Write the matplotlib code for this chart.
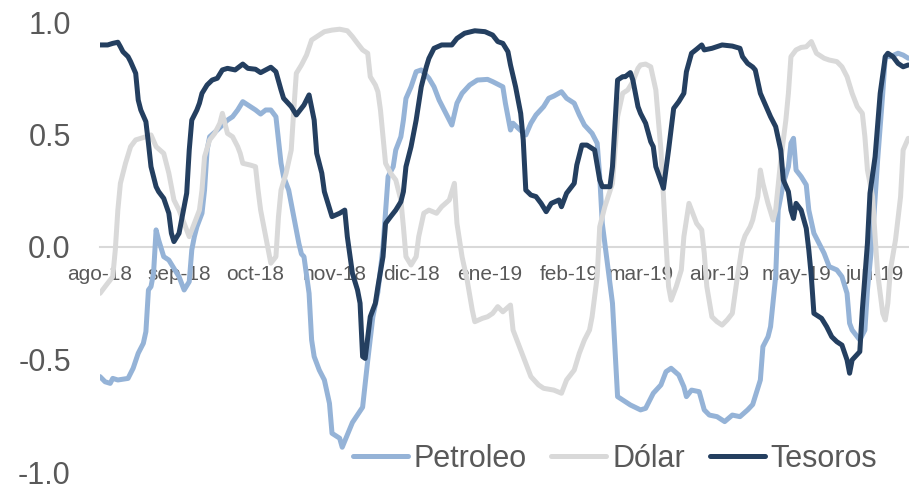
import matplotlib
matplotlib.use("Agg")
import matplotlib.pyplot as plt
import matplotlib.dates as mdates
import pandas as pd

plt.rcParams['font.family'] = ['Liberation Sans', 'DejaVu Sans']

# ---- data -------------------------------------------------------------
petroleo_dates = [
    "2018-08-01", "2018-08-03", "2018-08-05", "2018-08-06", "2018-08-08", "2018-08-12",
    "2018-08-14", "2018-08-16", "2018-08-18", "2018-08-19", "2018-08-20", "2018-08-21",
    "2018-08-22", "2018-08-23", "2018-08-24", "2018-08-26", "2018-08-28", "2018-08-30",
    "2018-09-01", "2018-09-03", "2018-09-05", "2018-09-06", "2018-09-07", "2018-09-08",
    "2018-09-10", "2018-09-11", "2018-09-12", "2018-09-13", "2018-09-16", "2018-09-18",
    "2018-09-20", "2018-09-22", "2018-09-24", "2018-09-26", "2018-09-29", "2018-10-01",
    "2018-10-03", "2018-10-05", "2018-10-07", "2018-10-09", "2018-10-11", "2018-10-12",
    "2018-10-14", "2018-10-16", "2018-10-18", "2018-10-19", "2018-10-20", "2018-10-22",
    "2018-10-23", "2018-10-24", "2018-10-26", "2018-10-28", "2018-10-30", "2018-10-31",
    "2018-11-03", "2018-11-04", "2018-11-08", "2018-11-12", "2018-11-14", "2018-11-16",
    "2018-11-18", "2018-11-20", "2018-11-22", "2018-11-24", "2018-11-25", "2018-11-27",
    "2018-11-28", "2018-11-29", "2018-12-01", "2018-12-03", "2018-12-05", "2018-12-08",
    "2018-12-10", "2018-12-12", "2018-12-14", "2018-12-17", "2018-12-19", "2018-12-21",
    "2018-12-24", "2018-12-27", "2018-12-31", "2019-01-02", "2019-01-06", "2019-01-07",
    "2019-01-09", "2019-01-10", "2019-01-12", "2019-01-15", "2019-01-17", "2019-01-19",
    "2019-01-22", "2019-01-24", "2019-01-26", "2019-01-29", "2019-01-31", "2019-02-03",
    "2019-02-05", "2019-02-07", "2019-02-10", "2019-02-12", "2019-02-13", "2019-02-14",
    "2019-02-16", "2019-02-18", "2019-02-20", "2019-02-23", "2019-02-25", "2019-03-01",
    "2019-03-03", "2019-03-06", "2019-03-09", "2019-03-11", "2019-03-13", "2019-03-16",
    "2019-03-18", "2019-03-19", "2019-03-21", "2019-03-24", "2019-03-26", "2019-03-28",
    "2019-03-31", "2019-04-03", "2019-04-06", "2019-04-09", "2019-04-12", "2019-04-14",
    "2019-04-17", "2019-04-18", "2019-04-20", "2019-04-21", "2019-04-23", "2019-04-24",
    "2019-04-26", "2019-04-28", "2019-04-29", "2019-04-30", "2019-05-01", "2019-05-03",
    "2019-05-05", "2019-05-06", "2019-05-08", "2019-05-10", "2019-05-12", "2019-05-14",
    "2019-05-17", "2019-05-19", "2019-05-21", "2019-05-22", "2019-05-23", "2019-05-26",
    "2019-05-28", "2019-05-29", "2019-05-31", "2019-06-02", "2019-06-04", "2019-06-05",
    "2019-06-07", "2019-06-10", "2019-06-12", "2019-06-14",
]
petroleo = [
    -0.576, -0.599, -0.606, -0.584, -0.591, -0.584,
    -0.539, -0.472, -0.428, -0.376, -0.191, -0.176,
    -0.117, 0.076, 0.031, -0.043, -0.058, -0.095,
    -0.132, -0.191, -0.154, -0.013, 0.046, 0.090,
    0.150, 0.253, 0.431, 0.490, 0.520, 0.542,
    0.564, 0.579, 0.609, 0.646, 0.624, 0.609,
    0.591, 0.609, 0.609, 0.579, 0.372, 0.313,
    0.253, 0.135, 0.016, -0.031, -0.043, -0.206,
    -0.413, -0.487, -0.547, -0.591, -0.695, -0.828,
    -0.850, -0.890, -0.780, -0.712, -0.505, -0.312,
    -0.200, 0.000, 0.313, 0.357, 0.431, 0.490,
    0.564, 0.660, 0.712, 0.779, 0.787, 0.750,
    0.712, 0.653, 0.609, 0.542, 0.639, 0.683,
    0.720, 0.742, 0.745, 0.735, 0.712, 0.639,
    0.520, 0.550, 0.528, 0.498, 0.550, 0.587,
    0.624, 0.661, 0.671, 0.690, 0.661, 0.639,
    0.587, 0.542, 0.505, 0.461, 0.313, 0.105,
    -0.072, -0.250, -0.665, -0.687, -0.702, -0.724,
    -0.717, -0.650, -0.613, -0.554, -0.539, -0.569,
    -0.621, -0.665, -0.636, -0.643, -0.724, -0.747,
    -0.754, -0.776, -0.747, -0.754, -0.724, -0.700,
    -0.591, -0.443, -0.399, -0.354, -0.132, 0.164,
    0.283, 0.357, 0.461, 0.483, 0.342, 0.313,
    0.276, 0.164, 0.061, 0.016, -0.028, -0.087,
    -0.102, -0.132, -0.206, -0.339, -0.369, -0.413,
    -0.369, -0.191, 0.046, 0.387, 0.683, 0.846,
    0.846, 0.861, 0.853, 0.839,
]

dolar_dates = [
    "2018-08-01", "2018-08-03", "2018-08-06", "2018-08-07", "2018-08-08", "2018-08-09",
    "2018-08-11", "2018-08-13", "2018-08-15", "2018-08-19", "2018-08-21", "2018-08-23",
    "2018-08-26", "2018-08-28", "2018-08-30", "2018-09-01", "2018-09-03", "2018-09-05",
    "2018-09-07", "2018-09-09", "2018-09-10", "2018-09-11", "2018-09-13", "2018-09-15",
    "2018-09-17", "2018-09-18", "2018-09-19", "2018-09-20", "2018-09-22", "2018-09-24",
    "2018-09-25", "2018-09-26", "2018-09-29", "2018-10-01", "2018-10-02", "2018-10-03",
    "2018-10-05", "2018-10-07", "2018-10-09", "2018-10-10", "2018-10-11", "2018-10-13",
    "2018-10-15", "2018-10-16", "2018-10-17", "2018-10-19", "2018-10-21", "2018-10-23",
    "2018-10-26", "2018-10-28", "2018-10-31", "2018-11-03", "2018-11-06", "2018-11-08",
    "2018-11-10", "2018-11-12", "2018-11-14", "2018-11-15", "2018-11-17", "2018-11-18",
    "2018-11-19", "2018-11-20", "2018-11-21", "2018-11-23", "2018-11-25", "2018-11-27",
    "2018-11-28", "2018-11-29", "2018-12-01", "2018-12-03", "2018-12-04", "2018-12-06",
    "2018-12-08", "2018-12-11", "2018-12-13", "2018-12-16", "2018-12-18", "2018-12-19",
    "2018-12-21", "2018-12-23", "2018-12-25", "2018-12-26", "2018-12-29", "2018-12-31",
    "2019-01-02", "2019-01-04", "2019-01-06", "2019-01-09", "2019-01-10", "2019-01-12",
    "2019-01-15", "2019-01-17", "2019-01-20", "2019-01-22", "2019-01-26", "2019-01-29",
    "2019-01-31", "2019-02-03", "2019-02-05", "2019-02-07", "2019-02-09", "2019-02-10",
    "2019-02-12", "2019-02-13", "2019-02-15", "2019-02-18", "2019-02-20", "2019-02-22",
    "2019-02-24", "2019-02-26", "2019-02-28", "2019-03-01", "2019-03-03", "2019-03-05",
    "2019-03-07", "2019-03-08", "2019-03-09", "2019-03-10", "2019-03-11", "2019-03-12",
    "2019-03-13", "2019-03-15", "2019-03-17", "2019-03-18", "2019-03-20", "2019-03-21",
    "2019-03-23", "2019-03-25", "2019-03-26", "2019-03-27", "2019-03-29", "2019-03-31",
    "2019-04-02", "2019-04-04", "2019-04-06", "2019-04-08", "2019-04-10", "2019-04-11",
    "2019-04-13", "2019-04-14", "2019-04-16", "2019-04-17", "2019-04-18", "2019-04-20",
    "2019-04-22", "2019-04-23", "2019-04-25", "2019-04-27", "2019-04-28", "2019-04-29",
    "2019-05-01", "2019-05-03", "2019-05-05", "2019-05-07", "2019-05-09", "2019-05-12",
    "2019-05-14", "2019-05-17", "2019-05-19", "2019-05-21", "2019-05-23", "2019-05-25",
    "2019-05-27", "2019-05-28", "2019-05-29", "2019-05-31", "2019-06-01", "2019-06-02",
    "2019-06-04", "2019-06-05", "2019-06-06", "2019-06-07", "2019-06-09", "2019-06-11",
    "2019-06-12", "2019-06-14",
]
dolar = [
    -0.206, -0.176, -0.132, -0.013, 0.164, 0.283,
    0.372, 0.446, 0.476, 0.490, 0.498, 0.446,
    0.416, 0.328, 0.209, 0.164, 0.105, 0.046,
    0.105, 0.164, 0.253, 0.401, 0.476, 0.505,
    0.550, 0.594, 0.550, 0.505, 0.490, 0.446,
    0.416, 0.372, 0.364, 0.357, 0.253, 0.164,
    0.046, -0.072, -0.043, 0.135, 0.253, 0.328,
    0.431, 0.609, 0.772, 0.809, 0.853, 0.920,
    0.942, 0.957, 0.964, 0.968, 0.961, 0.935,
    0.905, 0.876, 0.861, 0.757, 0.720, 0.690,
    0.609, 0.490, 0.372, 0.328, 0.298, 0.209,
    0.090, -0.043, -0.080, -0.043, 0.046, 0.150,
    0.164, 0.150, 0.179, 0.209, 0.283, 0.105,
    -0.043, -0.147, -0.280, -0.332, -0.317, -0.310,
    -0.295, -0.265, -0.288, -0.258, -0.369, -0.428,
    -0.517, -0.576, -0.613, -0.628, -0.636, -0.650,
    -0.591, -0.547, -0.472, -0.413, -0.369, -0.310,
    -0.132, 0.090, 0.179, 0.283, 0.579, 0.683,
    0.698, 0.735, 0.794, 0.809, 0.813, 0.801,
    0.698, 0.564, 0.431, 0.224, 0.016, -0.176,
    -0.236, -0.176, -0.102, 0.046, 0.194, 0.164,
    0.105, 0.076, -0.028, -0.176, -0.310, -0.332,
    -0.347, -0.324, -0.295, -0.132, 0.016, 0.050,
    0.090, 0.120, 0.224, 0.342, 0.283, 0.194,
    0.120, 0.164, 0.387, 0.564, 0.683, 0.846,
    0.876, 0.887, 0.890, 0.913, 0.861, 0.839,
    0.831, 0.824, 0.801, 0.757, 0.683, 0.624,
    0.594, 0.490, 0.342, 0.224, 0.046, -0.117,
    -0.295, -0.324, -0.250, -0.102, 0.031, 0.224,
    0.431, 0.483,
]

tesoros_dates = [
    "2018-08-01", "2018-08-04", "2018-08-06", "2018-08-08", "2018-08-09", "2018-08-10",
    "2018-08-12", "2018-08-13", "2018-08-15", "2018-08-16", "2018-08-17", "2018-08-19",
    "2018-08-20", "2018-08-21", "2018-08-23", "2018-08-24", "2018-08-26", "2018-08-28",
    "2018-08-29", "2018-08-30", "2018-09-01", "2018-09-02", "2018-09-04", "2018-09-05",
    "2018-09-06", "2018-09-08", "2018-09-09", "2018-09-10", "2018-09-12", "2018-09-14",
    "2018-09-16", "2018-09-18", "2018-09-20", "2018-09-23", "2018-09-26", "2018-09-28",
    "2018-10-01", "2018-10-03", "2018-10-05", "2018-10-07", "2018-10-09", "2018-10-11",
    "2018-10-12", "2018-10-15", "2018-10-17", "2018-10-20", "2018-10-22", "2018-10-24",
    "2018-10-25", "2018-10-27", "2018-10-28", "2018-10-31", "2018-11-03", "2018-11-05",
    "2018-11-06", "2018-11-08", "2018-11-10", "2018-11-11", "2018-11-12", "2018-11-13",
    "2018-11-15", "2018-11-17", "2018-11-18", "2018-11-20", "2018-11-21", "2018-11-23",
    "2018-11-25", "2018-11-27", "2018-11-28", "2018-11-29", "2018-12-01", "2018-12-03",
    "2018-12-05", "2018-12-07", "2018-12-08", "2018-12-10", "2018-12-13", "2018-12-17",
    "2018-12-19", "2018-12-22", "2018-12-26", "2018-12-30", "2019-01-02", "2019-01-04",
    "2019-01-06", "2019-01-08", "2019-01-09", "2019-01-11", "2019-01-13", "2019-01-14",
    "2019-01-15", "2019-01-17", "2019-01-19", "2019-01-21", "2019-01-23", "2019-01-25",
    "2019-01-28", "2019-01-29", "2019-01-31", "2019-02-03", "2019-02-04", "2019-02-06",
    "2019-02-08", "2019-02-11", "2019-02-13", "2019-02-14", "2019-02-17", "2019-02-18",
    "2019-02-20", "2019-02-22", "2019-02-23", "2019-02-25", "2019-02-26", "2019-02-28",
    "2019-03-01", "2019-03-03", "2019-03-05", "2019-03-06", "2019-03-07", "2019-03-10",
    "2019-03-12", "2019-03-14", "2019-03-16", "2019-03-18", "2019-03-19", "2019-03-21",
    "2019-03-23", "2019-03-25", "2019-03-26", "2019-03-29", "2019-04-02", "2019-04-06",
    "2019-04-09", "2019-04-10", "2019-04-12", "2019-04-14", "2019-04-15", "2019-04-17",
    "2019-04-19", "2019-04-21", "2019-04-23", "2019-04-25", "2019-04-26", "2019-04-28",
    "2019-04-29", "2019-04-30", "2019-05-01", "2019-05-03", "2019-05-05", "2019-05-06",
    "2019-05-07", "2019-05-08", "2019-05-11", "2019-05-13", "2019-05-15", "2019-05-17",
    "2019-05-19", "2019-05-21", "2019-05-22", "2019-05-23", "2019-05-26", "2019-05-27",
    "2019-05-29", "2019-05-30", "2019-06-01", "2019-06-03", "2019-06-05", "2019-06-06",
    "2019-06-08", "2019-06-10", "2019-06-12", "2019-06-14",
]
tesoros = [
    0.898, 0.898, 0.905, 0.910, 0.890, 0.868,
    0.846, 0.824, 0.772, 0.653, 0.609, 0.557,
    0.461, 0.357, 0.268, 0.246, 0.216, 0.150,
    0.061, 0.024, 0.061, 0.120, 0.239, 0.431,
    0.564, 0.609, 0.639, 0.683, 0.720, 0.742,
    0.750, 0.787, 0.794, 0.787, 0.813, 0.794,
    0.790, 0.775, 0.787, 0.799, 0.779, 0.698,
    0.661, 0.624, 0.587, 0.631, 0.676, 0.564,
    0.416, 0.328, 0.246, 0.135, 0.150, 0.164,
    0.046, -0.117, -0.191, -0.250, -0.487, -0.495,
    -0.310, -0.250, -0.176, -0.043, 0.105, 0.135,
    0.164, 0.201, 0.246, 0.357, 0.446, 0.564,
    0.712, 0.801, 0.838, 0.883, 0.898, 0.898,
    0.927, 0.950, 0.961, 0.957, 0.942, 0.913,
    0.905, 0.868, 0.809, 0.712, 0.594, 0.476,
    0.253, 0.231, 0.224, 0.194, 0.157, 0.194,
    0.209, 0.179, 0.239, 0.283, 0.364, 0.453,
    0.453, 0.431, 0.298, 0.268, 0.268, 0.357,
    0.742, 0.757, 0.757, 0.775, 0.742, 0.624,
    0.594, 0.550, 0.468, 0.446, 0.357, 0.261,
    0.431, 0.616, 0.646, 0.683, 0.779, 0.861,
    0.879, 0.898, 0.876, 0.883, 0.898, 0.893,
    0.883, 0.846, 0.816, 0.800, 0.787, 0.683,
    0.631, 0.579, 0.535, 0.431, 0.298, 0.246,
    0.164, 0.127, 0.194, 0.164, 0.083, -0.013,
    -0.132, -0.295, -0.317, -0.354, -0.399, -0.421,
    -0.436, -0.502, -0.561, -0.502, -0.465, -0.280,
    0.016, 0.239, 0.401, 0.683, 0.846, 0.861,
    0.846, 0.816, 0.801, 0.809,
]

month_ticks = ["2018-08-01", "2018-09-01", "2018-10-01", "2018-11-01", "2018-12-01",
               "2019-01-01", "2019-02-01", "2019-03-01", "2019-04-01", "2019-05-01",
               "2019-06-01"]
month_labels = ["ago-18", "sep-18", "oct-18", "nov-18", "dic-18", "ene-19",
                "feb-19", "mar-19", "abr-19", "may-19", "jun-19"]
y_ticks = [-1.0, -0.5, 0.0, 0.5, 1.0]

series = [
    ("Petroleo", petroleo_dates, petroleo, "#95B3D7"),
    ("Dólar", dolar_dates, dolar, "#D9D9D9"),
    ("Tesoros", tesoros_dates, tesoros, "#243F60"),
]

# ---- figure -------------------------------------------------------------
text_color = "#595959"
fig = plt.figure(figsize=(9.09, 4.84), dpi=100)
ax = fig.add_axes([100 / 909, 12 / 484, 809 / 909, 450 / 484])

for name, d, v, c in series:
    ax.plot(pd.to_datetime(d), v, color=c, lw=3.6, label=name, zorder=3,
            solid_joinstyle="round", solid_capstyle="round")

start = pd.Timestamp("2018-08-01")
ax.set_xlim(start, start + pd.Timedelta(days=317.3))
ax.set_ylim(-1.0, 1.0)

ax.set_xticks(pd.to_datetime(month_ticks))
ax.set_xticklabels(month_labels)
ax.set_yticks(y_ticks)
ax.set_yticklabels([f"{t:.1f}" for t in y_ticks])

for side in ("top", "right", "left"):
    ax.spines[side].set_visible(False)
ax.spines["bottom"].set_position(("data", 0))
ax.spines["bottom"].set_color("#D9D9D9")
ax.spines["bottom"].set_linewidth(1.5)
ax.spines["bottom"].set_zorder(1)

ax.tick_params(axis="x", length=0, pad=13, labelsize=15, labelcolor=text_color)
ax.tick_params(axis="y", length=0, pad=21, labelsize=22, labelcolor=text_color)

leg = fig.legend(loc="center", bbox_to_anchor=(615 / 909, 25 / 484), ncol=3,
                 frameon=False, fontsize=22, handlelength=1.8, handletextpad=0.2,
                 columnspacing=0.8)
for t in leg.get_texts():
    t.set_color(text_color)

fig.savefig("out.png", dpi=100)
